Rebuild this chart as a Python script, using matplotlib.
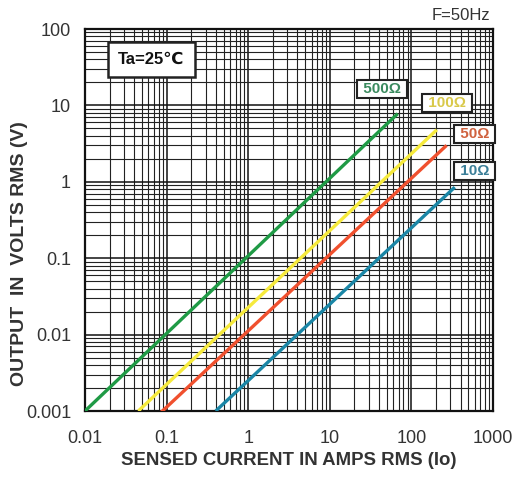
import matplotlib
matplotlib.use("Agg")
import matplotlib.pyplot as plt
from matplotlib.ticker import LogLocator, FixedLocator, NullFormatter

plt.rcParams["font.family"] = ["Liberation Sans", "DejaVu Sans"]

# load curves: sensed current (A) vs output voltage (V)
current_500 = [0.01, 68]
volts_500 = [0.001, 7.8]
current_100 = [0.045, 205]
volts_100 = [0.001, 4.8]
current_50 = [0.08, 270]
volts_50 = [0.0009, 3.0]
current_10 = [0.4, 340]
volts_10 = [0.001, 0.85]

curve_labels = ["500Ω", "100Ω", "50Ω", "10Ω"]
x_ticks = [0.01, 0.1, 1, 10, 100, 1000]
x_tick_labels = ["0.01", "0.1", "1", "10", "100", "1000"]
y_ticks = [0.001, 0.01, 0.1, 1, 10, 100]
y_tick_labels = ["0.001", "0.01", "0.1", "1", "10", "100"]

line_colors = ["#1f9a45", "#f6ea3c", "#f0502e", "#1a86a6"]
text_colors = ["#3a8a5e", "#d9c94a", "#d0623f", "#3a7e98"]
label_pos = [(0.728, 0.843), (0.887, 0.806), (0.955, 0.725), (0.955, 0.628)]

fig = plt.figure(figsize=(5.25, 4.8), dpi=100)
ax = fig.add_axes((85 / 525, 69 / 480, 408 / 525, 382 / 480))
ax.set_xscale("log")
ax.set_yscale("log")
ax.set_xlim(0.01, 1000)
ax.set_ylim(0.001, 100)

series = [
    (current_500, volts_500),
    (current_100, volts_100),
    (current_50, volts_50),
    (current_10, volts_10),
]
for (xs, ys), color in zip(series, line_colors):
    ax.plot(xs, ys, color=color, linewidth=2.4, solid_capstyle="butt", zorder=3)

ax.xaxis.set_major_locator(FixedLocator(x_ticks))
ax.yaxis.set_major_locator(FixedLocator(y_ticks))
ax.set_xticklabels(x_tick_labels)
ax.set_yticklabels(y_tick_labels)
ax.xaxis.set_minor_locator(LogLocator(base=10, subs=range(2, 10), numticks=20))
ax.yaxis.set_minor_locator(LogLocator(base=10, subs=range(2, 10), numticks=20))
ax.xaxis.set_minor_formatter(NullFormatter())
ax.yaxis.set_minor_formatter(NullFormatter())
ax.tick_params(which="both", length=0)
ax.tick_params(axis="x", pad=14, labelsize=13, labelcolor="#333333")
ax.tick_params(axis="y", pad=10, labelsize=13, labelcolor="#333333")
ax.grid(True, which="major", color="#111111", linewidth=1.1)
ax.grid(True, which="minor", color="#222222", linewidth=0.8)
for spine in ax.spines.values():
    spine.set_linewidth(1.6)
    spine.set_color("#111111")

ax.set_xlabel("SENSED CURRENT IN AMPS RMS (Io)", fontsize=13.4, fontweight="bold",
              color="#333333", labelpad=3)
fig.text(20 / 525, 1 - 254 / 480, "OUTPUT  IN  VOLTS RMS (V)", rotation=90,
         fontsize=14, fontweight="bold", color="#333333", ha="center", va="center")

box = {"boxstyle": "square,pad=0.12", "fc": "white", "ec": "#222222", "lw": 1.5}
for text, color, (px, py) in zip(curve_labels, text_colors, label_pos):
    ax.text(px, py, f" {text} ", transform=ax.transAxes, ha="center", va="center",
            fontsize=11, fontweight="bold", color=color, bbox=box,
            clip_on=False, zorder=5)

ax.text(0.163, 0.920, "Ta=25℃", transform=ax.transAxes, ha="center", va="center",
        fontsize=12, fontweight="bold", color="#111111", zorder=5,
        bbox={"boxstyle": "square,pad=0.6", "fc": "white", "ec": "#222222", "lw": 1.8})

fig.text(490 / 525, 1 - 15 / 480, "F=50Hz", ha="right", va="center",
         fontsize=12, color="#333333")

fig.savefig("out.png", dpi=100)
